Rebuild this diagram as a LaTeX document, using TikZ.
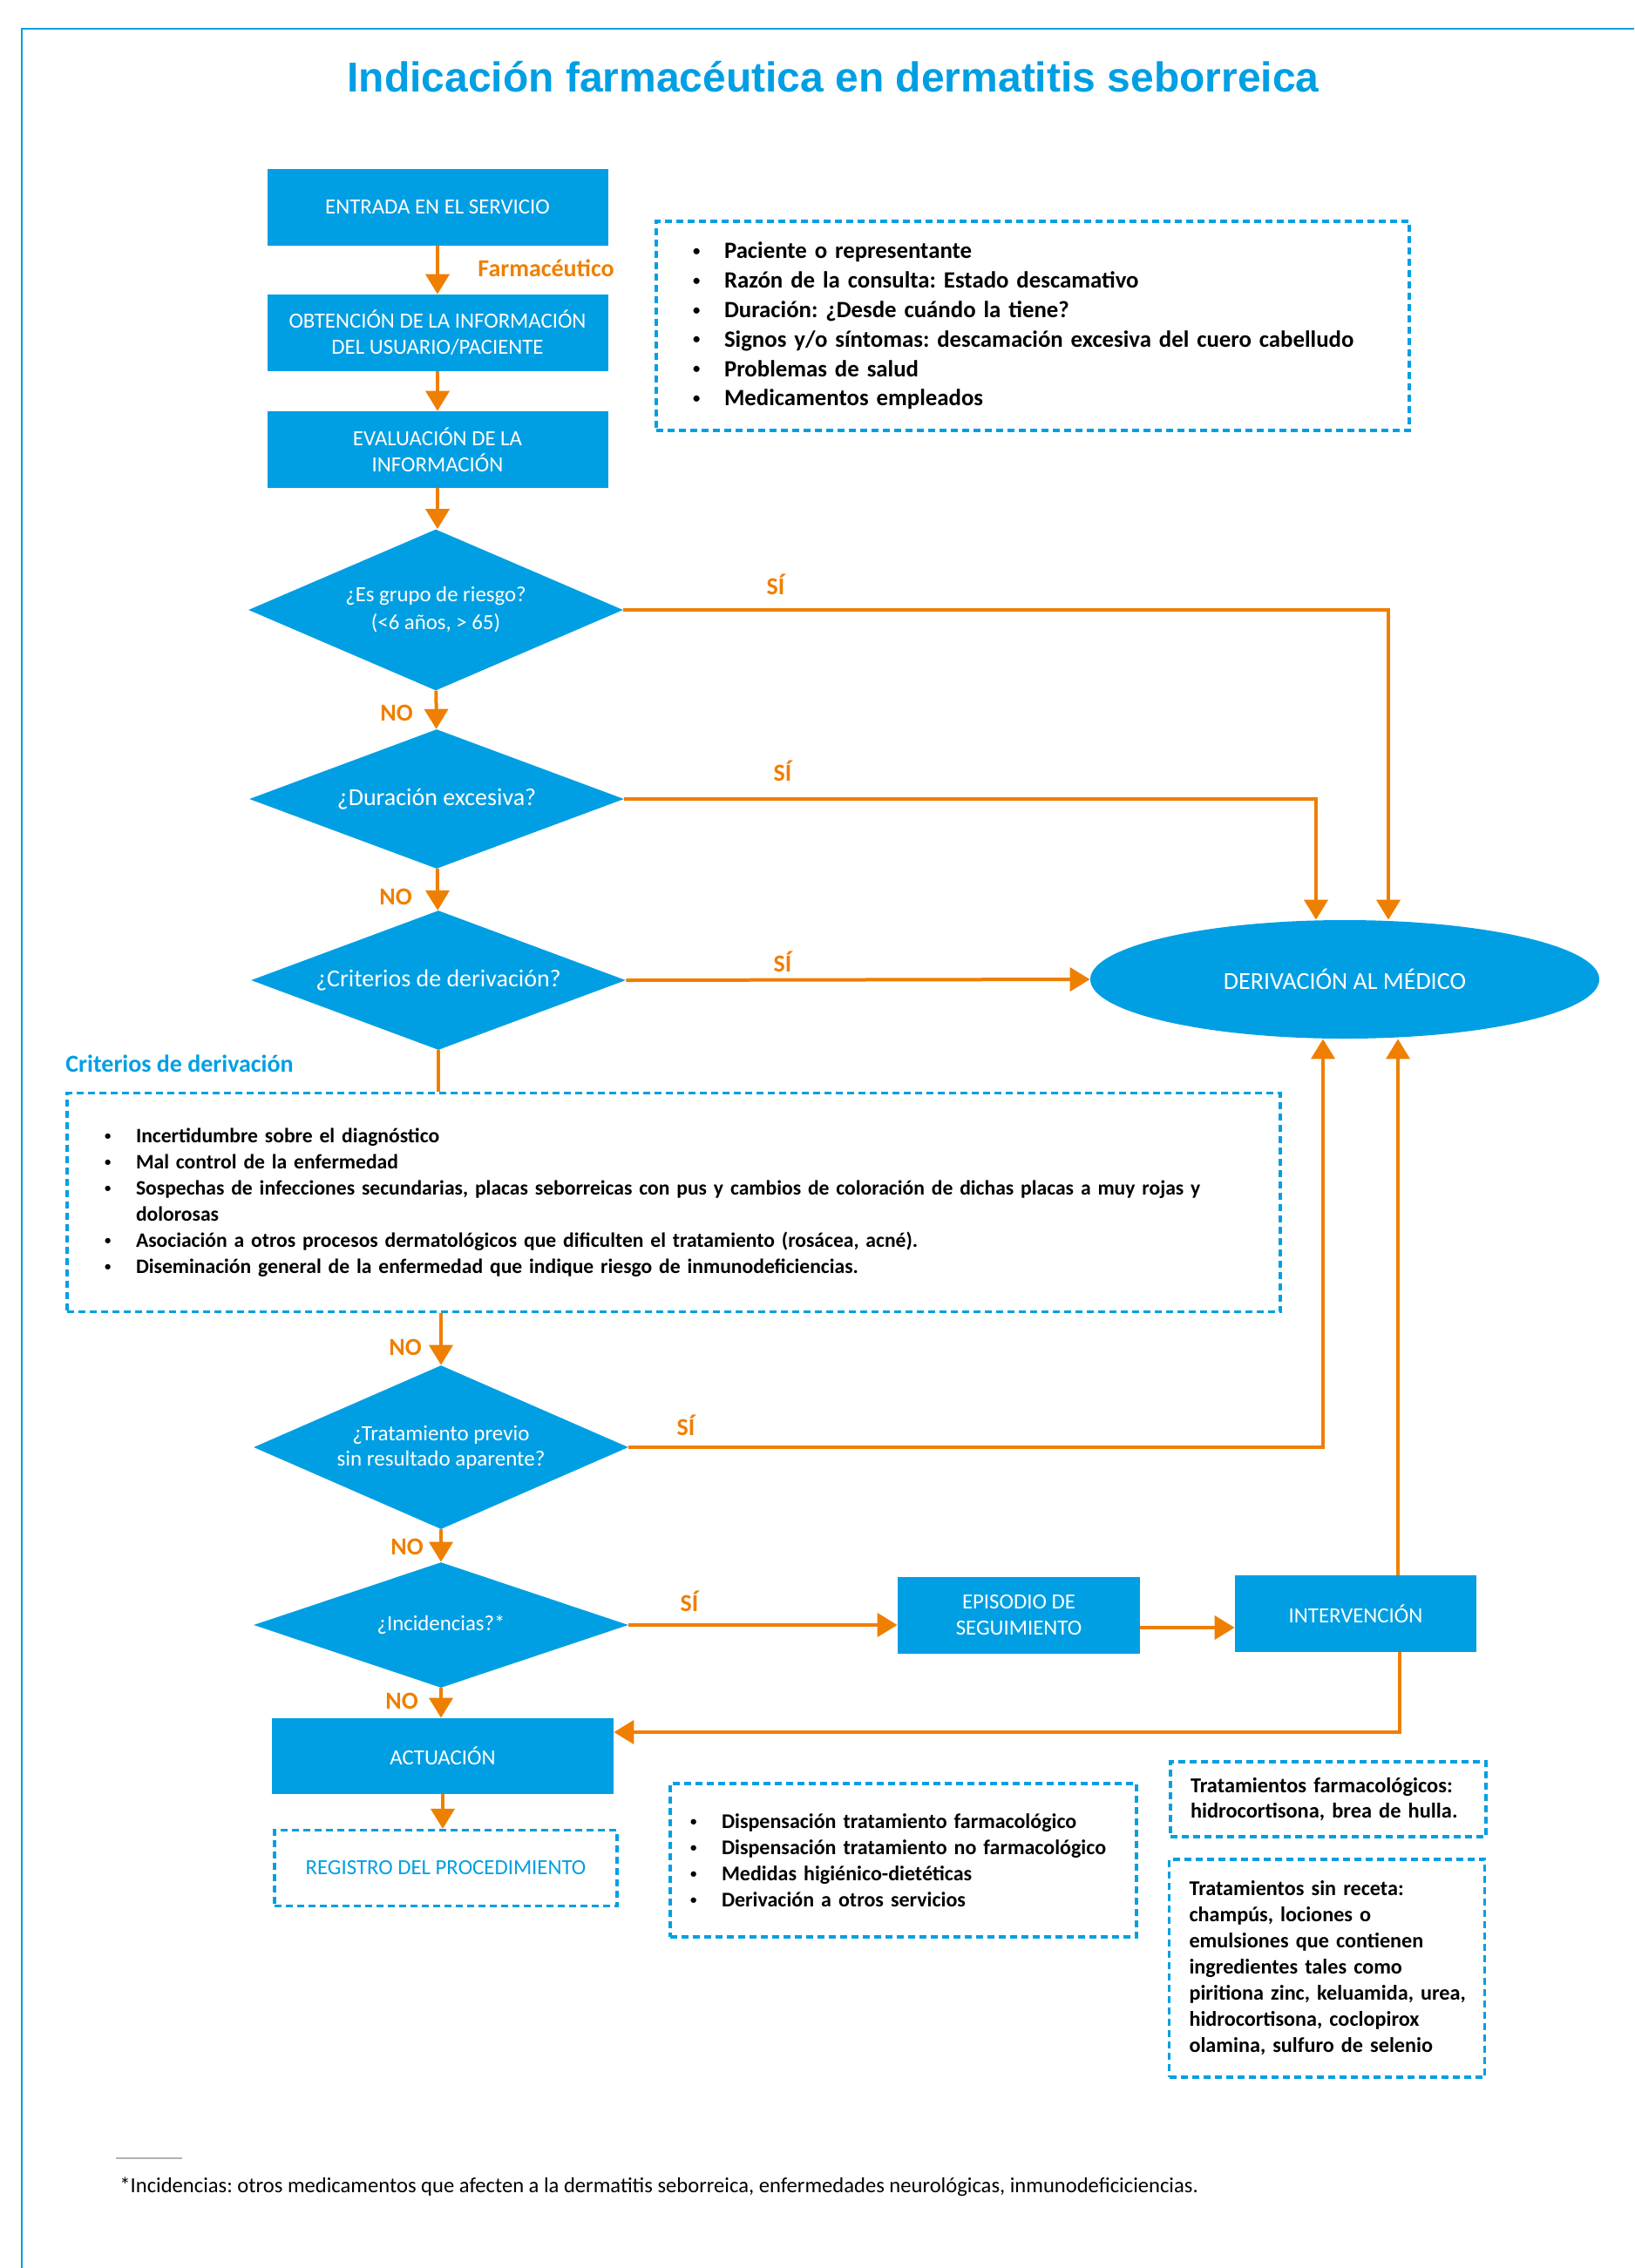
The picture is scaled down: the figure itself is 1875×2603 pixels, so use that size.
\documentclass[tikz,border=0pt]{standalone}
\usepackage{graphicx}
\usepackage{fontspec}
\setmainfont{Carlito}
\newfontfamily\titlefont{Liberation Sans}
\usetikzlibrary{shapes.geometric, arrows.meta}
\frenchspacing
\definecolor{dermablue}{HTML}{009FE3}
\definecolor{dermaorange}{HTML}{EF7F00}
\tikzset{
    box/.style={ % Blue process boxes
        rectangle,
        fill=dermablue,
        text=white,
        minimum width=195.5pt,
        minimum height=44pt,
        inner sep=2pt,
        align=center,
        font=\fontsize{12.4}{15}\selectfont
    },
    decision/.style={ % Blue question diamonds
        diamond,
        fill=dermablue,
        text=white,
        minimum width=215pt,
        inner sep=0pt,
        align=center,
        font=\fontsize{12.4}{16}\selectfont
    },
    notebox/.style={ % Dashed frames round the lists
        rectangle,
        draw=dermablue,
        line width=1.6pt,
        dash pattern=on 4pt off 2.5pt,
        align=left,
        font=\bfseries\fontsize{12}{15}\selectfont
    },
    flow/.style={ % Orange connectors
        draw=dermaorange,
        line width=2pt,
        -{Triangle[length=11.5pt,width=13.5pt]}
    },
    answer/.style={ % SI / NO labels
        text=dermaorange,
        inner sep=0pt,
        font=\bfseries\fontsize{14}{16}\selectfont
    }
}
% one line of a list, never broken
\newcommand{\bul}[1]{\mbox{\makebox[18pt][l]{\raisebox{0.12em}{\scalebox{0.62}{\textbullet}}}#1}}
\newcommand{\keepline}[1]{\mbox{#1}}

\begin{document}
\begin{tikzpicture}[x=0.5pt, y=-0.5pt]
    \useasboundingbox (0,0) rectangle (1875,2603);
    \draw[dermablue, line width=1.3pt] (25,2603) -- (25,33) -- (1875,33);
    \node[anchor=base, inner sep=0pt, text=dermablue, font=\titlefont\bfseries\fontsize{24}{28}\selectfont] (title) at (956,105) {Indicación farmacéutica en dermatitis seborreica};

    % main column
    \node[box] (b1) at (502,238) {ENTRADA EN EL SERVICIO};
    \node[box] (b2) at (502,382) {OBTENCIÓN DE LA INFORMACIÓN\\DEL USUARIO/PACIENTE};
    \node[box] (b3) at (502,516) {EVALUACIÓN DE LA\\INFORMACIÓN};
    \node[decision, minimum height=92.5pt, aspect=2.32] (d1) at (500,700) {¿Es grupo de riesgo?\\(<6 años, > 65)};
    \node[decision, minimum height=80pt, aspect=2.69, font=\fontsize{14}{16}\selectfont] (d2) at (501,917) {¿Duración excesiva?};
    \node[decision, minimum height=80pt, aspect=2.69, font=\fontsize{14}{16}\selectfont] (d3) at (503,1125) {¿Criterios de derivación?};
    \node[decision, minimum height=94pt, aspect=2.29, font=\fontsize{12.5}{14.5}\selectfont] (d4) at (506,1661) {¿Tratamiento previo\\sin resultado aparente?};
    \node[decision, minimum height=72pt, aspect=2.99] (d5) at (506,1865) {¿Incidencias?*};
    \node[box, minimum width=196pt, minimum height=43.5pt] (b4) at (508,2015.5) {ACTUACIÓN};
    \node[notebox, minimum width=196.5pt, minimum height=43.5pt, align=center, text=dermablue, font=\fontsize{12.4}{15}\selectfont] (reg) at (511.5,2144) {REGISTRO DEL PROCEDIMIENTO};

    % right side
    \node[ellipse, fill=dermablue, text=white, minimum width=292pt, minimum height=68pt, inner sep=0pt, font=\fontsize{14}{16}\selectfont] (med) at (1543,1124) {DERIVACIÓN AL MÉDICO};
    \node[box, minimum width=139pt] (epi) at (1169,1854) {EPISODIO DE\\SEGUIMIENTO};
    \node[box, minimum width=138.5pt] (inter) at (1555.5,1852) {INTERVENCIÓN};

    % lists
    \node[notebox, minimum width=432pt, minimum height=120pt, inner xsep=21pt, text width=390pt, font=\bfseries\fontsize{13.4}{16.9}\selectfont] (info) at (1185,374) {%
        \bul{Paciente o representante}\\
        \bul{Razón de la consulta: Estado descamativo}\\
        \bul{Duración: ¿Desde cuándo la tiene?}\\
        \bul{Signos y/o síntomas: descamación excesiva del cuero cabelludo}\\
        \bul{Problemas de salud}\\
        \bul{Medicamentos empleados}};
    \node[anchor=west, inner sep=0pt, text=dermablue, font=\bfseries\fontsize{14}{16}\selectfont] (critlabel) at (75,1221) {Criterios de derivación};
    \node[notebox, minimum width=696pt, minimum height=125.5pt, inner xsep=21.5pt, text width=653pt, font=\bfseries\fontsize{11.8}{15}\selectfont] (crit) at (773,1380) {%
        \bul{Incertidumbre sobre el diagnóstico}\\
        \bul{Mal control de la enfermedad}\\
        \bul{Sospechas de infecciones secundarias, placas seborreicas con pus y cambios de coloración de dichas placas a muy rojas y}\\
        \keepline{\makebox[18pt]{}dolorosas}\\
        \bul{Asociación a otros procesos dermatológicos que dificulten el tratamiento (rosácea, acné).}\\
        \bul{Diseminación general de la enfermedad que indique riesgo de inmunodeficiencias.}};
    \node[notebox, minimum width=267.5pt, minimum height=88pt, inner xsep=11.5pt, text width=244.5pt] (disp) at (1036.5,2135) {%
        \bul{Dispensación tratamiento farmacológico}\\
        \bul{Dispensación tratamiento no farmacológico}\\
        \bul{Medidas higiénico-dietéticas}\\
        \bul{Derivación a otros servicios}};
    \node[notebox, minimum width=181pt, minimum height=43pt, inner xsep=11.5pt, text width=158pt, font=\bfseries\fontsize{12.2}{14.5}\selectfont] (farm) at (1524,2065) {%
        \keepline{Tratamientos farmacológicos:}\\
        \keepline{hidrocortisona, brea de hulla.}};
    \node[notebox, minimum width=180.5pt, minimum height=125pt, inner xsep=11.5pt, text width=158pt, font=\bfseries\fontsize{12.1}{15}\selectfont] (receta) at (1522.5,2259) {%
        \keepline{Tratamientos sin receta:}\\
        \keepline{champús, lociones o}\\
        \keepline{emulsiones que contienen}\\
        \keepline{ingredientes tales como}\\
        \keepline{piritiona zinc, keluamida, urea,}\\
        \keepline{hidrocortisona, coclopirox}\\
        \keepline{olamina, sulfuro de selenio}};

    % labels
    \node[answer, anchor=west] (farmlabel) at (548,308) {Farmacéutico};
    \node[answer] (no1) at (455,818) {NO};
    \node[answer] (no2) at (454,1029) {NO};
    \node[answer] (no3) at (465,1546) {NO};
    \node[answer] (no4) at (467,1775) {NO};
    \node[answer] (no5) at (461,1952) {NO};
    \node[answer] (si1) at (890,671) {SÍ};
    \node[answer] (si2) at (898,885) {SÍ};
    \node[answer] (si3) at (898,1104) {SÍ};
    \node[answer] (si4) at (787,1636) {SÍ};
    \node[answer] (si5) at (791,1838) {SÍ};

    % turning points
    \coordinate (c1) at (1593,700);
    \coordinate (c2) at (1510,917);
    \coordinate (c4) at (1518,1661);
    \coordinate (c5) at (1604,1852);
    \coordinate (c6) at (1606,1988);

    % connectors
    \draw[flow] (b1) -- (b2);
    \draw[flow] (b2) -- (b3);
    \draw[flow] (b3.south) -- (b3.south |- d1.north);
    \draw[flow] (d1) -- (d2);
    \draw[flow] (d2) -- (d3);
    \draw[draw=dermaorange, line width=2pt] (d3.south) -- (d3.south |- crit.north);
    \draw[flow] (crit.south -| d4.north) -- (d4.north);
    \draw[flow] (d4) -- (d5);
    \draw[flow] (d5.south) -- (d5.south |- b4.north);
    \draw[flow] (b4.south) -- (b4.south |- reg.north);
    \draw[flow] (d1.east) -- (c1) -- (c1 |- med.north);
    \draw[flow] (d2.east) -- (c2) -- (c2 |- med.north);
    \draw[flow] (d3.east) -- (med.west);
    \draw[flow] (d4.east) -- (c4) -- (c4 |- med.south);
    \draw[flow] (d5.east) -- (d5.east -| epi.west);
    \draw[flow] ([yshift=-7pt]epi.east) -- ([yshift=-7pt]epi.east -| inter.west);
    \draw[flow] (c5 |- inter.north) -- (c5 |- med.south);
    \draw[flow] (c6 |- inter.south) -- (c6) -- (c6 -| b4.east);

    % footnote
    \draw[gray!60, line width=1pt] (133,2477) -- (209,2477);
    \node[anchor=base west, inner sep=0pt, font=\fontsize{12.3}{14}\selectfont] (foot) at (137,2516) {*Incidencias: otros medicamentos que afecten a la dermatitis seborreica, enfermedades neurológicas, inmunodeficiciencias.};
\end{tikzpicture}
\end{document}
